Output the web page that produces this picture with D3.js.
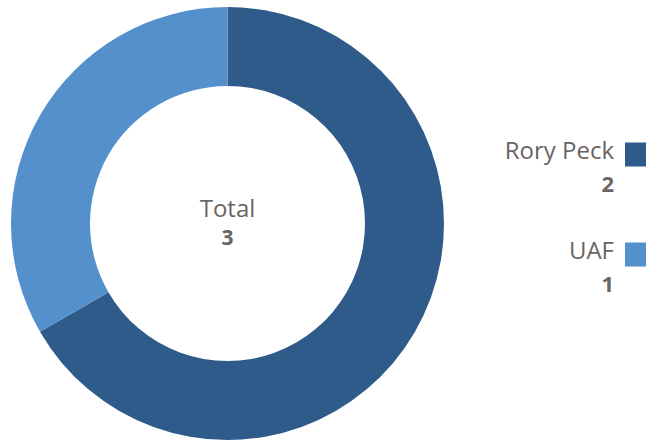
<!DOCTYPE html>
<html>
<head>
<meta charset="utf-8">
<script src="https://cdn.jsdelivr.net/npm/d3@7"></script>
<style>
  body { margin: 0; background: #fff; }
  text { font-family: "Open Sans", sans-serif; fill: #6b6464; }
</style>
</head>
<body>
<div class="donut"></div>
<script>
  var categories = ["Rory Peck", "UAF"],
      values = [2, 1],
      colors = ["#2f5b8b", "#5490cc"];

  var width = 646, height = 444,
      cx = 227.5, cy = 223.5,
      outerR = 216.5, innerR = 137.5;

  var data = categories.map(function(c, i) {
      return {name: c, value: values[i], color: colors[i]};
  });
  var total = d3.sum(values);

  var svg = d3.select('.donut')
      .append("svg")
      .attr("width", width)
      .attr("height", height);

  var pie = d3.pie()
      .sort(null)
      .value(function(d) { return d.value; });

  var arc = d3.arc()
      .innerRadius(innerR)
      .outerRadius(outerR);

  var g = svg.append("g")
      .attr("transform", "translate(" + cx + "," + cy + ")");

  g.selectAll("path")
      .data(pie(data))
      .enter().append("path")
      .attr("d", arc)
      .attr("fill", function(d) { return d.data.color; });

  g.append("text")
      .attr("text-anchor", "middle")
      .attr("y", -7)
      .style("font-size", "24px")
      .text("Total");

  g.append("text")
      .attr("text-anchor", "middle")
      .attr("y", 21.5)
      .style("font-size", "21px")
      .style("font-weight", "bold")
      .text(total);

  // legend, right aligned against the swatches
  var legendY = d3.scalePoint()
      .domain(categories)
      .range([142.5, 242.5]);

  var items = svg.selectAll(".legend")
      .data(data)
      .enter().append("g")
      .attr("class", "legend")
      .attr("transform", function(d) { return "translate(0," + legendY(d.name) + ")"; });

  items.append("rect")
      .attr("x", 625)
      .attr("width", 24)
      .attr("height", 24)
      .attr("fill", function(d) { return d.color; });

  items.append("text")
      .attr("x", 614)
      .attr("y", 16.5)
      .attr("text-anchor", "end")
      .style("font-size", "24px")
      .text(function(d) { return d.name; });

  items.append("text")
      .attr("x", 614)
      .attr("y", 49)
      .attr("text-anchor", "end")
      .style("font-size", "22px")
      .style("font-weight", "bold")
      .text(function(d) { return d.value; });
</script>
</body>
</html>
